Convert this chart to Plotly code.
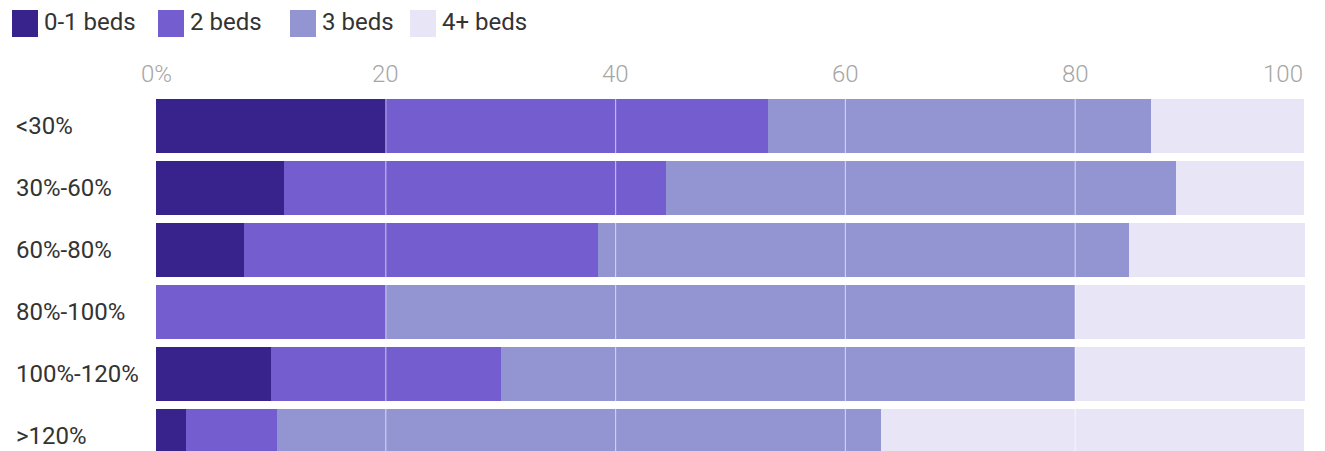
import plotly.graph_objects as go

# Share of households by unit size, per income band (% of AMI)
income_bands = ["<30%", "30%-60%", "60%-80%", "80%-100%", "100%-120%", ">120%"]
series_names = ["0-1 beds", "2 beds", "3 beds", "4+ beds"]
beds_0_1 = [20.0, 11.1, 7.7, 0.0, 10.0, 2.6]
beds_2 = [33.3, 33.3, 30.8, 20.0, 20.0, 7.9]
beds_3 = [33.3, 44.4, 46.2, 60.0, 50.0, 52.6]
beds_4_plus = [13.3, 11.1, 15.4, 20.0, 20.0, 36.8]
series_values = [beds_0_1, beds_2, beds_3, beds_4_plus]
series_colors = ["#37238b", "#745ecf", "#9394d2", "#e8e6f6"]

tick_vals = [0, 20, 40, 60, 80, 100]
tick_text = ["0%", "20", "40", "60", "80", "100"]
grid_vals = [20, 40, 60, 80]

FONT = "Roboto"
W, H = 1325, 451
M_L, M_R, M_T, M_B = 156, 20, 95, 0
plot_w = W - M_L - M_R
plot_h = H - M_T - M_B

fig = go.Figure()
for name, vals, col in zip(series_names, series_values, series_colors):
    fig.add_trace(go.Bar(
        y=income_bands, x=vals, name=name, orientation="h",
        marker=dict(color=col, line=dict(width=0)),
        showlegend=False, hoverinfo="x+name",
    ))

# light vertical grid drawn over the bars
for gv in grid_vals:
    fig.add_shape(type="line", xref="x", yref="paper", x0=gv, x1=gv, y0=0, y1=1,
                  line=dict(color="rgba(255,255,255,0.55)", width=1.2), layer="above")

# top axis labels; the last one is kept inside the chart edge
for i, (tv, tt) in enumerate(zip(tick_vals, tick_text)):
    fig.add_annotation(text=tt, xref="x", yref="paper", x=tv, y=1,
                       xanchor="right" if i == len(tick_vals) - 1 else "center",
                       yanchor="middle", yshift=21, showarrow=False,
                       font=dict(family=FONT, size=24, color="#a6a6a6", weight=300))

# category labels, left aligned in the margin
for band in income_bands:
    fig.add_annotation(text=band, xref="paper", yref="y", x=(14 - M_L) / plot_w, y=band,
                       xanchor="left", yanchor="middle", showarrow=False,
                       font=dict(family=FONT, size=24, color="#333333"))

# legend row across the top
legend_x = [12, 158, 290, 410]
for px, name, col in zip(legend_x, series_names, series_colors):
    fig.add_shape(type="rect", xref="paper", yref="paper",
                  x0=(px - M_L) / plot_w, x1=(px + 26 - M_L) / plot_w,
                  y0=1 + (M_T - 37) / plot_h, y1=1 + (M_T - 10) / plot_h,
                  fillcolor=col, line=dict(width=0))
    fig.add_annotation(text=name, xref="paper", yref="paper",
                       x=(px + 30 - M_L) / plot_w, y=1 + (M_T - 22) / plot_h,
                       xanchor="left", yanchor="middle", showarrow=False,
                       font=dict(family=FONT, size=24, color="#333333"))

fig.update_layout(
    barmode="stack", bargap=0.13,
    width=W, height=H,
    margin=dict(l=M_L, r=M_R, t=M_T, b=M_B, pad=0),
    paper_bgcolor="white", plot_bgcolor="white",
    font=dict(family=FONT),
    xaxis=dict(side="top", range=[0, 100], showticklabels=False,
               showgrid=False, zeroline=False, showline=False, ticks="",
               fixedrange=True),
    yaxis=dict(categoryorder="array", categoryarray=income_bands,
               range=[-0.5 + 356 / 62, -0.5], showticklabels=False,
               showgrid=False, zeroline=False, showline=False, ticks="",
               fixedrange=True),
)

fig.write_html("out.html")
